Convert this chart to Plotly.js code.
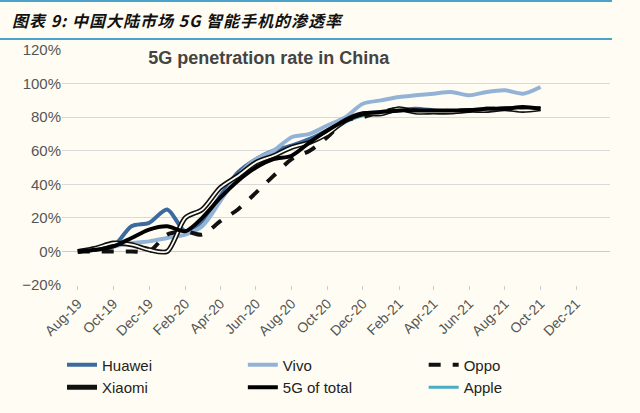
<!DOCTYPE html>
<html><head><meta charset="utf-8">
<script src="https://cdn.plot.ly/plotly-3.0.1.min.js"></script>
<style>
body{margin:0;background:#fffdf3;}
#hdr{position:absolute;left:0;top:0;width:612px;height:36px;border-top:2px solid #4aa3c8;border-bottom:2px solid #4aa3c8;}
#hdr span{position:absolute;left:12px;top:6px;font:italic bold 16px "Noto Sans CJK SC";color:#111;letter-spacing:1px;}
#chart1{position:absolute;left:0;top:40px;width:640px;height:373px;}
</style></head><body>
<div id="hdr"><span>图表 9:  中国大陆市场 5G 智能手机的渗透率</span></div>
<div id="chart1"></div>
<script>
var months = ["2019-08","2019-09","2019-10","2019-11","2019-12","2020-01","2020-02","2020-03","2020-04","2020-05","2020-06","2020-07","2020-08","2020-09","2020-10","2020-11","2020-12","2021-01","2021-02","2021-03","2021-04","2021-05","2021-06","2021-07","2021-08","2021-09","2021-10"];
var huawei = [0,1,3,15,17,25,12,18,33,47,55,60,63,67,72,78,82,83,84,85,84,83,84,84,85,85,85];
var vivo   = [0,2,3,5,6,8,10,15,30,45,55,60,68,70,75,80,88,90,92,93,94,95,93,95,96,94,98];
var oppo   = [0,0,0,0,0,10,12,10,18,25,35,45,55,60,68,78,80,83,85,84,83,84,84,85,85,85,85];
var xiaomi = [0,2,5,4,1,0,20,25,38,45,53,57,62,65,70,78,82,82,85,83,83,83,84,84,85,84,85];
var total  = [0,1,3,8,13,15,12,20,32,42,50,55,57,65,72,78,82,83,84,84,84,84,84,85,85,86,85];
var apple  = [null,null,null,null,null,null,null,null,null,null,null,null,null,null,70,77,81,83,84,84,84,84,84,85,85,85,85];

function tr(name, y, color, width, dash, show){
  return {x: months, y: y, name: name, mode: "lines", showlegend: show !== false,
    line: {color: color, width: width, dash: dash || "solid", shape: "spline", smoothing: 0.8}};
}
var data = [
  tr("Apple", apple, "#4bacc6", 3),
  tr("Huawei", huawei, "#3d6a9e", 4),
  tr("Vivo", vivo, "#93b3d6", 4),
  tr("Oppo", oppo, "#111", 4, "dash"),
  tr("Xiaomi", xiaomi, "#111", 5),
  tr("xw", xiaomi, "#fffdf3", 1.8, "solid", false),
  tr("5G of total", total, "#000", 4)
];
var order = {"Huawei":1,"Vivo":2,"Oppo":3,"Xiaomi":4,"5G of total":5,"Apple":6};
data.forEach(function(t){ t.legendrank = order[t.name] || 99; });

var layout = {
  width: 640, height: 373,
  paper_bgcolor: "#fffdf3", plot_bgcolor: "#fffdf3",
  margin: {l: 62, r: 30, t: 10, b: 95},
  font: {family: "Liberation Sans, Arial", size: 14, color: "#555"},
  title: {text: "<b>5G penetration rate in China</b>", x: 0.42, y: 0.97, xanchor: "center", yanchor: "top",
    font: {size: 18, color: "#444"}},
  xaxis: {type: "date", range: ["2019-07-05", "2022-01-28"], tickformat: "%b-%y",
    dtick: "M2", tick0: "2019-08-01", tickangle: -45, showgrid: false,
    ticks: "outside", ticklen: 4, tickcolor: "#ccc", tickfont: {size: 14}},
  yaxis: {range: [-20, 120], dtick: 20, ticksuffix: "%", gridcolor: "#d9d9d9",
    zeroline: true, zerolinecolor: "#ccc", tickfont: {size: 15}},
  legend: {orientation: "h", x: 0.0, y: -0.27, xanchor: "left", yanchor: "top",
    entrywidth: 0.33, entrywidthmode: "fraction", font: {size: 15, color: "#222"},
    bgcolor: "rgba(0,0,0,0)"},
  showlegend: true
};
Plotly.newPlot("chart1", data, layout, {displayModeBar: false, staticPlot: true});
</script></body></html>
